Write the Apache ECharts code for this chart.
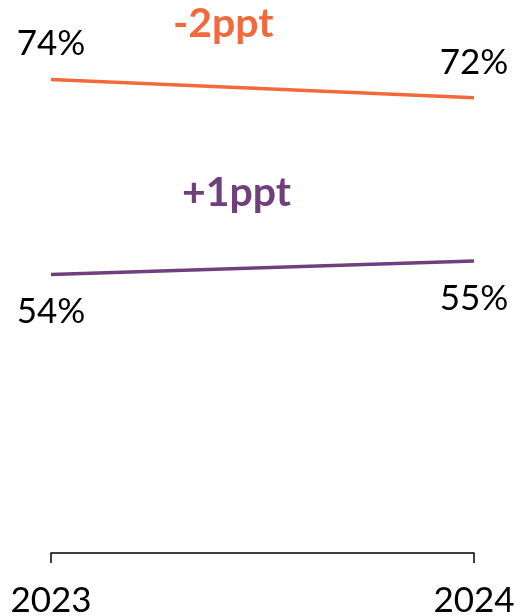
<!DOCTYPE html>
<html>
<head>
<meta charset="utf-8">
<script src="https://cdn.jsdelivr.net/npm/echarts@6/dist/echarts.min.js"></script>
<style>html,body{margin:0;padding:0;background:#fff;}#c{width:515px;height:616px;}</style>
</head>
<body>
<div id="c"></div>
<script>
var years = ['2023', '2024'];
var seriesA = [74.0, 72.1];   // orange
var seriesB = [53.7, 55.1];   // purple
var changeA = '-2ppt';
var changeB = '+1ppt';
var colorA = '#F26A3B';
var colorB = '#703F7E';
var FONT = 'Lato';

var chart = echarts.init(document.getElementById('c'));
function lbl(pos, dist) {
  return {
    show: true, position: pos, distance: dist,
    formatter: function (p) { return Math.round(p.value) + '%'; },
    color: '#000', fontFamily: FONT, fontSize: 35
  };
}
chart.setOption({
  animation: false,
  grid: { left: 51, right: 41, top: 22, height: 528, outerBoundsMode: 'none', containLabel: false },
  xAxis: {
    type: 'category', data: years, boundaryGap: false, offset: 3,
    axisLine: { lineStyle: { color: '#000', width: 1.5 } },
    axisTick: { show: true, length: 10, lineStyle: { color: '#000', width: 1.5 } },
    axisLabel: { color: '#000', fontFamily: FONT, fontSize: 35, margin: 30 }
  },
  yAxis: { type: 'value', min: 25, max: 80, show: false, splitLine: { show: false } },
  series: [
    {
      type: 'line', data: seriesA, symbol: 'circle', symbolSize: 2, showSymbol: true,
      itemStyle: { color: 'rgba(0,0,0,0)', borderWidth: 0 },
      lineStyle: { color: colorA, width: 3.5 },
      label: lbl('top', 17)
    },
    {
      type: 'line', data: seriesB, symbol: 'circle', symbolSize: 2, showSymbol: true,
      itemStyle: { color: 'rgba(0,0,0,0)', borderWidth: 0 },
      lineStyle: { color: colorB, width: 3.5 },
      label: lbl('bottom', 19)
    }
  ],
  graphic: [
    { type: 'text', left: 173, top: 3, style: { text: changeA, fill: colorA, font: 'bold 41px ' + FONT } },
    { type: 'text', left: 182, top: 172, style: { text: changeB, fill: colorB, font: 'bold 41px ' + FONT } }
  ]
});
</script>
</body>
</html>
